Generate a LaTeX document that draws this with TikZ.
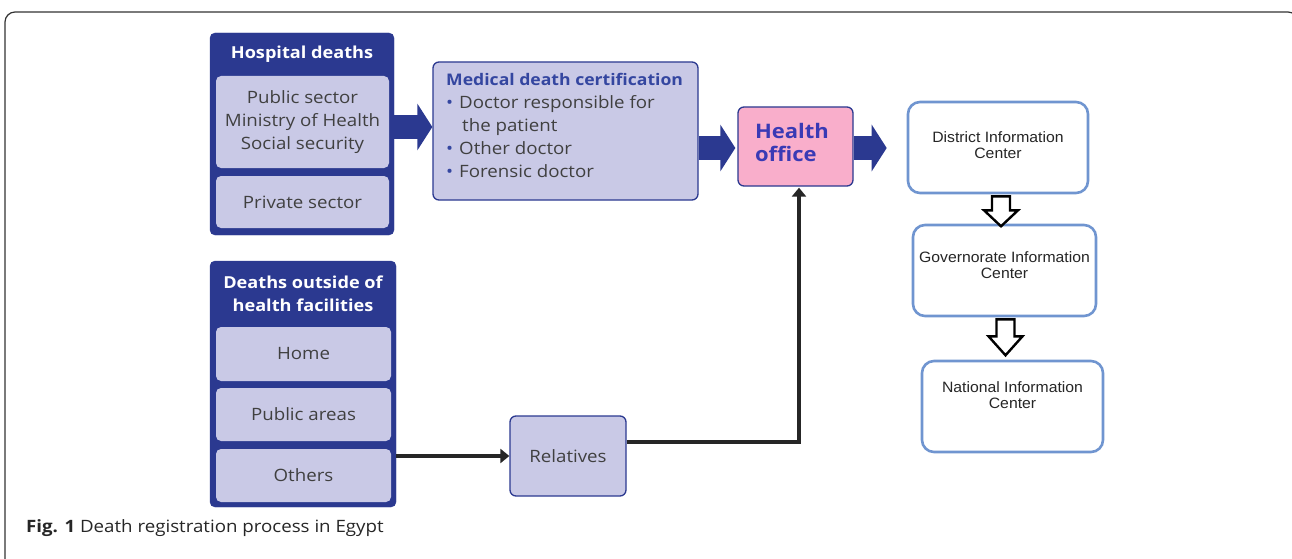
\documentclass[tikz,border=0pt]{standalone}
\usepackage{fontspec}
\setmainfont[FakeStretch=1.1]{Open Sans}
\newfontfamily\arialf[FakeStretch=1.05]{Liberation Sans}
\newfontfamily\capf[FakeStretch=1.1]{Open Sans}
\usetikzlibrary{calc,arrows.meta}
\definecolor{dkblue}{HTML}{2B3990}
\definecolor{lav}{HTML}{C9C9E6}
\definecolor{txtgray}{HTML}{404040}
\definecolor{pinkf}{HTML}{F9AECB}
\definecolor{ltblue}{HTML}{7095D0}
\definecolor{hoblue}{HTML}{3A3AB5}
\definecolor{medblue}{HTML}{3446A0}
\tikzset{
  container/.style={draw=dkblue, fill=dkblue, rounded corners=5pt, inner sep=0pt},
  inbox/.style={fill=lav, rounded corners=5pt, inner sep=0pt, text=txtgray, align=center, font=\fontsize{17}{23}\selectfont},
  ctitle/.style={text=white, font=\bfseries\fontsize{16.5}{23}\selectfont, align=center, inner sep=0pt},
  lavbox/.style={draw=dkblue, line width=1.3pt, fill=lav, rounded corners=6pt, inner sep=0pt},
  infobox/.style={draw=ltblue, line width=2.6pt, fill=white, rounded corners=12pt, inner sep=0pt},
  infotext/.style={font=\arialf\fontsize{15}{16}\selectfont, align=center, text=black!85, inner sep=0pt},
  bigarrow/.style={line width=24pt, draw=dkblue, -{Triangle[width=46pt,length=15pt]}},
  hollow/.style={draw=black, line width=2.4pt, fill=white, line join=miter},
  conn/.style={draw=black!85, line width=4pt},
}
\newcommand{\medbul}{{\color{medblue}\textbullet}\hspace{6pt}}
\begin{document}
\begin{tikzpicture}[x=1pt,y=-1pt]
\useasboundingbox (0,0) rectangle (1292,559);
% outer frame
\draw[line width=1.2pt, black!80, rounded corners=10pt] (5,570) -- (5,12) -- (1298,12) -- (1298,570);

% Hospital deaths container
\node[container, minimum width=184pt, minimum height=202pt] (hosp) at (302,134) {};
\node[ctitle] (hosptitle) at (302,54) {Hospital deaths};
\node[inbox, minimum width=173pt, minimum height=92pt] (pub) at (302.5,122) {Public sector\\Ministry of Health\\Social security};
\node[inbox, minimum width=173pt, minimum height=52pt] (priv) at (302.5,202) {Private sector};

% Deaths outside container
\node[container, minimum width=186pt, minimum height=246pt] (outside) at (303,384) {};
\node[ctitle] (outtitle) at (303,293.5) {Deaths outside of\\health facilities};
\node[inbox, minimum width=175pt, minimum height=54pt] (home) at (303.5,354) {Home};
\node[inbox, minimum width=175pt, minimum height=53pt] (pubar) at (303.5,414.5) {Public areas};
\node[inbox, minimum width=175pt, minimum height=53pt] (others) at (303.5,475.5) {Others};

% Medical death certification
\node[lavbox, minimum width=265pt, minimum height=138pt] (med) at (565.5,131) {};
\node[anchor=north west, inner sep=0pt, align=left, text=txtgray, font=\fontsize{17}{23}\selectfont] (medtext) at (446,73)
  {{\bfseries\color{medblue}\fontsize{16}{23}\selectfont Medical death certification}\\
   \medbul Doctor responsible for\\
   \hspace{16pt}the patient\\
   \medbul Other doctor\\
   \medbul Forensic doctor};

% Health office
\node[draw=dkblue, line width=1.3pt, fill=pinkf, rounded corners=6pt, minimum width=115pt, minimum height=79pt, inner sep=0pt] (health) at (795.5,146.5) {};
\node[text=hoblue, font=\bfseries\fontsize{20}{23}\selectfont, align=left, inner sep=0pt] (healthtext) at (792,142) {Health\\office};

% Relatives
\node[lavbox, minimum width=116pt, minimum height=80pt, text=txtgray, font=\fontsize{17}{23}\selectfont] (rel) at (568,456) {Relatives};

% Information centers
\node[infobox, minimum width=180pt, minimum height=91pt] (dist) at (998,147.5) {};
\node[infotext] (disttext) at (998,145) {District Information\\Center};
\node[infobox, minimum width=183pt, minimum height=91pt] (gov) at (1004.5,270.5) {};
\node[infotext] (govtext) at (1004.5,265) {Governorate Information\\Center};
\node[infobox, minimum width=181pt, minimum height=91pt] (nat) at (1012.5,406.5) {};
\node[infotext] (nattext) at (1012.5,395) {National Information\\Center};

% big block arrows
\draw[bigarrow] ($(hosp.east)+(0,-7)$) -- ($(med.west)+(0,-4)$);
\draw[bigarrow] ($(med.east)+(0,17)$) -- ($(health.west)+(-2,1.5)$);
\draw[bigarrow] ($(health.east)+(0,1.5)$) -- ($(dist.west)+(-20,0.5)$);

% hollow arrows
\coordinate (h1) at ($(dist.south)+(3,2)$);
\draw[hollow] ($(h1)+(-9,0)$) -- ($(h1)+(9,0)$) -- ($(h1)+(9,14)$) -- ($(h1)+(17,14)$) -- ($(h1)+(0,30)$) -- ($(h1)+(-17,14)$) -- ($(h1)+(-9,14)$) -- cycle;
\coordinate (h2) at ($(gov.south)+(1,2)$);
\draw[hollow] ($(h2)+(-9,0)$) -- ($(h2)+(9,0)$) -- ($(h2)+(9,17)$) -- ($(h2)+(17,17)$) -- ($(h2)+(0,36)$) -- ($(h2)+(-17,17)$) -- ($(h2)+(-9,17)$) -- cycle;

% connectors
\draw[conn, -{Triangle[width=14pt,length=9pt]}] (outside.east |- rel.west) -- (rel.west);
\draw[conn, -{Triangle[width=14pt,length=9pt]}] ($(rel.east)+(0,-14)$) -| ($(health.south)+(3.5,1)$);

% caption
\node[anchor=west, inner sep=0pt, font=\capf\fontsize{17}{20}\selectfont, text=black!85] (cap) at (26,528) {\textbf{Fig. 1} Death registration process in Egypt};
\end{tikzpicture}
\end{document}
